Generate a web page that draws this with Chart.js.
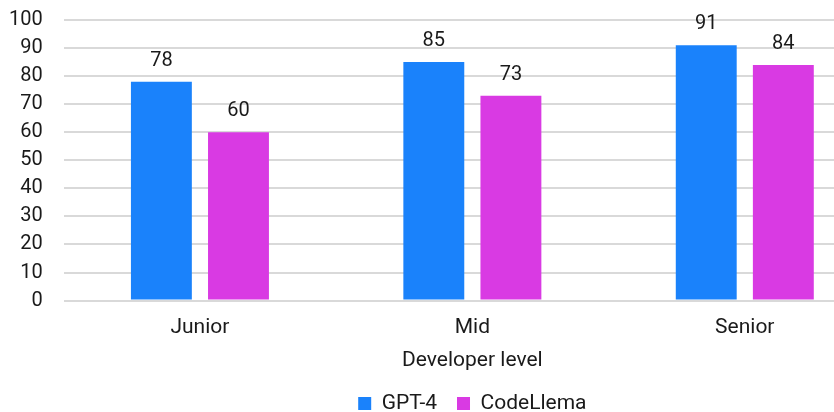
<!DOCTYPE html>
<html>
<head>
<meta charset="utf-8">
<script src="https://cdn.jsdelivr.net/npm/chart.js@4"></script>
<style>
    html, body { margin: 0; padding: 0; background: #fff; overflow: hidden; }
    #wrap { width: 900px; height: 424px; }
</style>
</head>
<body>
<div id="wrap"><canvas id="graph"></canvas></div>
<script>
const levels = ['Junior', 'Mid', 'Senior'];
const gpt4Scores = [78, 85, 91];
const codeLlemaScores = [60, 73, 84];
const yTicks = [0, 10, 20, 30, 40, 50, 60, 70, 80, 90, 100];

// draws the value above every bar
const valueLabels = {
    id: 'valueLabels',
    afterDatasetsDraw(chart) {
        const ctx = chart.ctx;
        ctx.save();
        ctx.font = '20px Roboto';
        ctx.fillStyle = '#1a1a1a';
        ctx.textAlign = 'center';
        ctx.textBaseline = 'bottom';
        chart.data.datasets.forEach((ds, i) => {
            chart.getDatasetMeta(i).data.forEach((bar, j) => {
                ctx.fillText(ds.data[j], bar.x, bar.y - 11);
            });
        });
        ctx.restore();
    }
};

Chart.defaults.font.family = 'Roboto';
Chart.defaults.font.size = 21;
Chart.defaults.color = '#1a1a1a';

new Chart(document.getElementById('graph'), {
    type: 'bar',
    data: {
        labels: levels,
        datasets: [
            {
                label: 'GPT-4',
                data: gpt4Scores,
                backgroundColor: '#1a82fb'
            },
            {
                label: 'CodeLlema',
                data: codeLlemaScores,
                backgroundColor: '#d93ae3'
            }
        ]
    },
    options: {
        responsive: true,
        maintainAspectRatio: false,
        animation: false,
        categoryPercentage: 0.566,
        barPercentage: 0.79,
        layout: {
            padding: { top: 20, right: 19, left: 9, bottom: 0 }
        },
        plugins: {
            legend: {
                position: 'bottom',
                fullSize: false,
                labels: {
                    boxWidth: 13,
                    boxHeight: 13,
                    padding: 20
                }
            },
            tooltip: { enabled: false }
        },
        scales: {
            x: {
                grid: { display: false },
                border: { display: false },
                ticks: { padding: 7 },
                title: {
                    display: true,
                    text: 'Developer level',
                    padding: { top: 0, bottom: 0 }
                }
            },
            y: {
                min: 0,
                max: 100,
                afterBuildTicks: axis => {
                    axis.ticks = yTicks.map(v => ({ value: v }));
                },
                grid: {
                    color: '#d9d9d9',
                    lineWidth: 2,
                    tickLength: 21,
                    tickColor: 'rgba(0,0,0,0)'
                },
                border: { display: false },
                ticks: { padding: 0, autoSkip: false, font: { size: 20 } }
            }
        }
    },
    plugins: [valueLabels]
});
</script>
</body>
</html>
